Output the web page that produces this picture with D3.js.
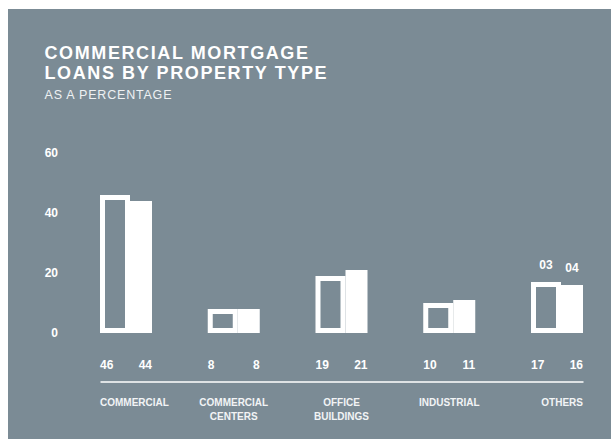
<!DOCTYPE html>
<html>
<head>
<meta charset="utf-8">
<script src="https://cdn.jsdelivr.net/npm/d3@7/dist/d3.min.js"></script>
<style>
  html, body { margin: 0; padding: 0; background: #ffffff; }
  svg { display: block; }
  text { font-family: "Liberation Sans", Arial, Helvetica, sans-serif; }
</style>
</head>
<body>
<svg id="chart" width="611" height="439"></svg>
<script>
// Property types (line breaks mark wrapped axis labels)
const categories = ["COMMERCIAL", "COMMERCIAL\nCENTERS", "OFFICE\nBUILDINGS", "INDUSTRIAL", "OTHERS"];
// Share of commercial mortgage loans, percent
const values2003 = [46, 8, 19, 10, 17];
const values2004 = [44, 8, 21, 11, 16];
const seriesLabels = ["03", "04"];
const yTicks = [0, 20, 40, 60];

const W = 611, H = 439;
const panel = { x: 8, y: 9 };
const bg = "#7b8b95";

const svg = d3.select("#chart");

svg.append("rect")
  .attr("x", panel.x).attr("y", panel.y)
  .attr("width", W - panel.x).attr("height", H - panel.y)
  .attr("fill", bg);

// Heading
svg.append("text")
  .attr("x", 44.5).attr("y", 58.5)
  .attr("fill", "#ffffff")
  .attr("font-size", 18).attr("font-weight", "bold")
  .attr("letter-spacing", 1.6)
  .text("COMMERCIAL MORTGAGE");
svg.append("text")
  .attr("x", 44.5).attr("y", 78.5)
  .attr("fill", "#ffffff")
  .attr("font-size", 18).attr("font-weight", "bold")
  .attr("letter-spacing", 1.6)
  .text("LOANS BY PROPERTY TYPE");
svg.append("text")
  .attr("x", 44.5).attr("y", 98.7)
  .attr("fill", "#eef1f3")
  .attr("font-size", 12.5)
  .attr("letter-spacing", 0.8)
  .text("AS A PERCENTAGE");

// Scales
const x = d3.scaleBand()
  .domain(categories)
  .range([100, 583])
  .paddingInner(0.5174)
  .paddingOuter(0);

const y = d3.scaleLinear()
  .domain([0, 60])
  .range([333, 153]);

// Split of each band between the two years
const split = 30 / 52;
const w03 = x.bandwidth() * split;
const stroke = 5;

// Y axis labels only
const yAxis = svg.append("g")
  .attr("transform", "translate(58,0)")
  .call(d3.axisLeft(y).tickValues(yTicks).tickSize(0).tickPadding(0));
yAxis.select(".domain").remove();
yAxis.selectAll("text")
  .attr("fill", "#ffffff")
  .attr("font-size", 12)
  .attr("font-weight", "bold")
  .attr("font-family", "'Liberation Sans', Arial, sans-serif");

// 2003: outlined bars
svg.append("g").selectAll("rect")
  .data(categories)
  .join("rect")
  .attr("x", (d) => x(d) + stroke / 2)
  .attr("y", (d, i) => y(values2003[i]) + stroke / 2)
  .attr("width", w03 - stroke)
  .attr("height", (d, i) => y(0) - y(values2003[i]) - stroke)
  .attr("fill", bg)
  .attr("stroke", "#ffffff")
  .attr("stroke-width", stroke);

// 2004: solid bars
svg.append("g").selectAll("rect")
  .data(categories)
  .join("rect")
  .attr("x", (d) => x(d) + w03)
  .attr("y", (d, i) => y(values2004[i]))
  .attr("width", x.bandwidth() - w03)
  .attr("height", (d, i) => y(0) - y(values2004[i]))
  .attr("fill", "#ffffff");

// Year labels above the last group
const last = categories[categories.length - 1];
const li = categories.length - 1;
svg.append("text")
  .attr("x", x(last) + w03 / 2)
  .attr("y", y(values2003[li]) - 13)
  .attr("text-anchor", "middle")
  .attr("fill", "#ffffff").attr("font-size", 12).attr("font-weight", "bold")
  .text(seriesLabels[0]);
svg.append("text")
  .attr("x", x(last) + w03 + (x.bandwidth() - w03) / 2)
  .attr("y", y(values2004[li]) - 13)
  .attr("text-anchor", "middle")
  .attr("fill", "#ffffff").attr("font-size", 12).attr("font-weight", "bold")
  .text(seriesLabels[1]);

// Value row
const valueY = 368.5;
svg.append("g").selectAll("text")
  .data(categories)
  .join("text")
  .attr("x", (d) => x(d))
  .attr("y", valueY)
  .attr("text-anchor", "start")
  .attr("fill", "#ffffff").attr("font-size", 12).attr("font-weight", "bold")
  .text((d, i) => values2003[i]);
svg.append("g").selectAll("text")
  .data(categories)
  .join("text")
  .attr("x", (d) => x(d) + x.bandwidth())
  .attr("y", valueY)
  .attr("text-anchor", "end")
  .attr("fill", "#ffffff").attr("font-size", 12).attr("font-weight", "bold")
  .text((d, i) => values2004[i]);

// Baseline rule
const xAxis = svg.append("g")
  .attr("transform", "translate(0,381.5)")
  .call(d3.axisBottom(x).tickSize(0).tickSizeOuter(0).tickFormat(""));
xAxis.select(".domain").attr("stroke", "#ffffff").attr("stroke-width", 1.5);
xAxis.selectAll(".tick").remove();

// Category labels: first left-aligned, last right-aligned, others centred
const catG = svg.append("g");
categories.forEach((c, i) => {
  const n = categories.length;
  let anchor = "middle", cx = x(c) + x.bandwidth() / 2;
  if (i === 0) { anchor = "start"; cx = x(c); }
  if (i === n - 1) { anchor = "end"; cx = x(c) + x.bandwidth(); }
  const t = catG.append("text")
    .attr("x", cx).attr("y", 406)
    .attr("text-anchor", anchor)
    .attr("fill", "#f2f4f5").attr("font-size", 10).attr("font-weight", "bold");
  c.split("\n").forEach((line, k) => {
    t.append("tspan").attr("x", cx).attr("dy", k === 0 ? 0 : 13.5).text(line);
  });
});
</script>
</body>
</html>
